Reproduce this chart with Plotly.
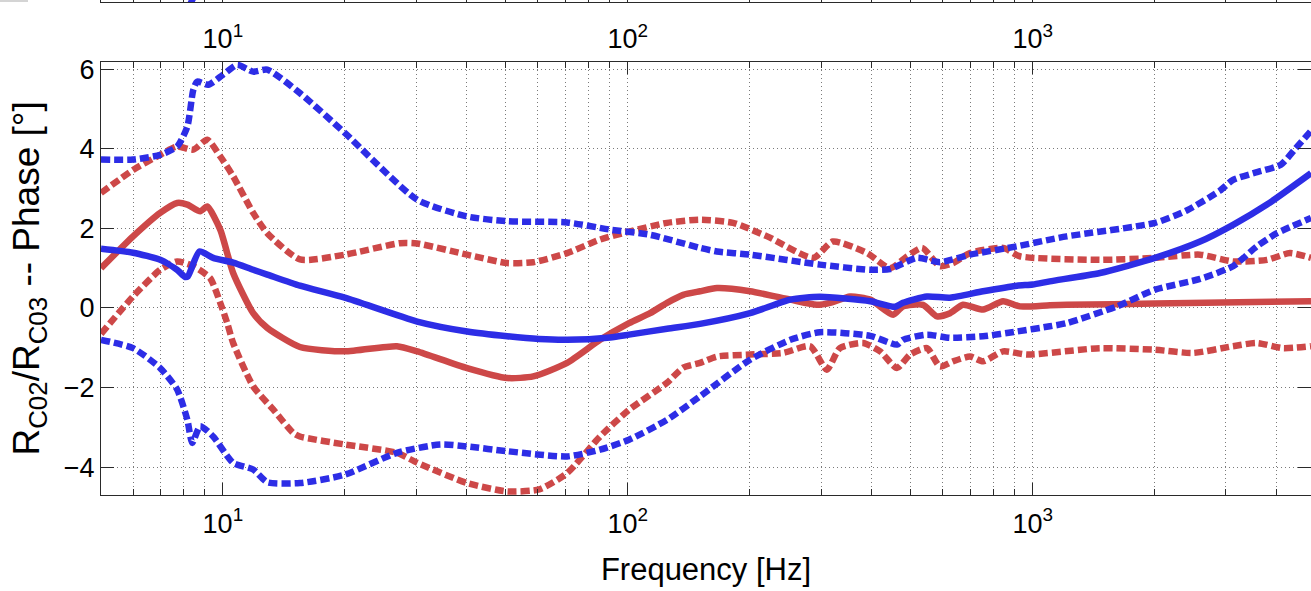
import numpy as np
import plotly.graph_objects as go

# ---------------- data (frequency in Hz, phase in degrees) ----------------
blue_mean_f = [5.0, 6.0, 7.0, 7.71, 8.07, 8.2, 8.75, 9.46, 10.6, 11.88, 12.87, 15.5, 20, 30.2, 40.1,
               50.4, 60.4, 70.8, 90.4, 100.7, 125, 150.8, 200.4, 252, 298, 397, 457, 478, 548, 625,
               754, 915, 1000, 1102, 1466, 2005, 2590, 3124, 3789, 4867]
blue_mean_v = [1.49, 1.39, 1.21, 0.96, 0.78, 0.80, 1.42, 1.26, 1.14, 0.96, 0.84, 0.56, 0.26, -0.34, -0.59,
               -0.71, -0.78, -0.80, -0.74, -0.67, -0.52, -0.40, -0.13, 0.21, 0.28, 0.17, 0.03, 0.13, 0.29, 0.26,
               0.42, 0.56, 0.59, 0.67, 0.88, 1.26, 1.67, 2.09, 2.60, 3.39]

blue_up_f = [5.0, 6.0, 7.0, 7.71, 8.17, 8.45, 8.64, 9.2, 10.0, 10.85, 11.88, 12.87, 15.5, 20, 30.2,
             40.1, 50.4, 70.8, 90.4, 113.5, 150.8, 166, 200.4, 298, 397, 444, 518, 590, 700, 915,
             1102, 1213, 2005, 2400, 2900, 3124, 3600, 4100, 4450, 4867]
blue_up_v = [3.73, 3.73, 3.85, 4.06, 4.56, 5.48, 5.69, 5.61, 5.86, 6.11, 5.94, 5.99, 5.40, 4.40, 2.72,
             2.30, 2.18, 2.15, 1.97, 1.84, 1.51, 1.42, 1.34, 1.09, 0.96, 0.98, 1.26, 1.15, 1.34, 1.55,
             1.72, 1.80, 2.14, 2.45, 2.95, 3.22, 3.42, 3.60, 4.00, 4.45]

blue_lo_f = [5.0, 6.0, 7.0, 7.71, 8.17, 8.40, 8.79, 9.46, 10.6, 11.88, 12.87, 15.5, 20, 26.9, 34.4,
             40.1, 50.4, 70.8, 85.4, 100.7, 125, 150.8, 200.4, 252, 298, 397, 462, 478, 548, 625,
             754, 915, 1102, 1213, 1615, 2005, 2590, 3124, 3579, 4011, 4867]
blue_lo_v = [-0.80, -1.01, -1.51, -2.05, -2.81, -3.39, -2.97, -3.23, -3.89, -4.06, -4.38, -4.40, -4.19, -3.64, -3.43,
             -3.48, -3.60, -3.73, -3.56, -3.31, -2.81, -2.22, -1.30, -0.80, -0.61, -0.70, -0.92, -0.80, -0.67, -0.75,
             -0.71, -0.59, -0.46, -0.38, 0.04, 0.46, 0.73, 1.05, 1.55, 1.88, 2.26]

red_mean_f = [5.0, 6.0, 7.0, 7.71, 8.17, 8.79, 9.15, 9.85, 10.6, 11.88, 12.87, 15.5, 20, 26.9, 30.2,
              40.1, 50.4, 58.4, 70.8, 85.4, 100.7, 113.5, 125, 137, 150.8, 166, 200.4, 252, 293, 316,
              354, 397, 452, 478, 536, 580, 625, 673, 754, 845, 930, 1102, 1213, 2005, 4867]
red_mean_v = [1.00, 1.80, 2.39, 2.64, 2.60, 2.43, 2.55, 1.97, 0.88, -0.13, -0.50, -0.98, -1.09, -0.96, -1.09,
              -1.51, -1.76, -1.72, -1.38, -0.80, -0.38, -0.13, 0.13, 0.33, 0.42, 0.50, 0.42, 0.21, 0.08, 0.13,
              0.29, 0.21, -0.17, 0.04, 0.08, -0.21, -0.13, 0.08, -0.04, 0.17, 0.04, 0.07, 0.08, 0.11, 0.17]

red_up_f = [5.0, 6.0, 7.0, 7.71, 8.45, 9.15, 9.85, 10.6, 11.88, 12.87, 15.5, 20, 27.4, 30.2, 40.1,
            50.4, 58.4, 70.8, 85.4, 100.7, 125, 150.8, 182, 221, 287, 321, 390, 444, 490, 533,
            590, 636, 700, 845, 930, 1466, 2005, 2590, 3124, 3789, 4318, 4867]
red_up_v = [2.89, 3.47, 3.85, 4.06, 3.98, 4.23, 3.81, 3.31, 2.39, 1.88, 1.22, 1.34, 1.63, 1.62, 1.34,
            1.13, 1.15, 1.38, 1.72, 1.92, 2.14, 2.22, 2.14, 1.80, 1.26, 1.67, 1.38, 1.00, 1.30, 1.51,
            1.05, 1.13, 1.38, 1.51, 1.30, 1.21, 1.26, 1.34, 1.17, 1.21, 1.38, 1.26]

red_lo_f = [5.0, 6.0, 7.0, 7.71, 8.45, 9.30, 9.85, 10.25, 10.6, 11.88, 13.31, 14.92, 15.5, 20, 26.9,
            30.2, 40.1, 50.4, 60.4, 70.8, 85.4, 100.7, 125, 137, 150.8, 166, 200.4, 242, 282, 310,
            334, 381, 420, 462, 498, 548, 590, 636, 700, 754, 845, 968, 1466, 2005, 2488, 3124,
            3579, 4150, 4867]
red_lo_v = [-0.65, 0.29, 0.96, 1.17, 1.05, 0.75, 0.13, -0.38, -0.88, -1.97, -2.55, -3.14, -3.23, -3.43, -3.64,
            -3.89, -4.40, -4.61, -4.56, -4.15, -3.23, -2.56, -1.88, -1.50, -1.38, -1.22, -1.17, -1.13, -0.96, -1.55,
            -1.01, -0.88, -1.09, -1.51, -1.17, -1.01, -1.47, -1.34, -1.22, -1.34, -1.09, -1.17, -1.01, -1.05, -1.13, -0.96,
            -0.88, -1.01, -0.96]

# fragment of a curve of the panel above (only its bottom edge is visible)
upper_panel_f = [8.30, 8.45]
upper_panel_v = [-1.0, 2.0]

major_ticks = [10, 100, 1000]
major_text = ["10<sup>1</sup>", "10<sup>2</sup>", "10<sup>3</sup>"]
minor_ticks = [6, 7, 8, 9, 20, 30, 40, 50, 60, 70, 80, 90,
               200, 300, 400, 500, 600, 700, 800, 900, 2000, 3000, 4000]
y_ticks = [-4, -2, 0, 2, 4, 6]

BLUE = "rgb(45,45,230)"
RED = "rgb(205,72,72)"
FONT = "Liberation Sans, Arial, Helvetica, sans-serif"
AX = "#2a2a2a"
GRID = "#7a7a7a"
GDASH = "1px,3px"
DASH = "9px,4px"
LW = 6.5

fig = go.Figure()

def add(f, v, color, dash):
    fig.add_trace(go.Scatter(x=f, y=v, mode="lines", xaxis="x", yaxis="y",
                             line=dict(color=color, width=LW, dash=dash, shape="spline", smoothing=0.6),
                             showlegend=False, hoverinfo="skip"))

add(red_up_f, red_up_v, RED, DASH)
add(red_lo_f, red_lo_v, RED, DASH)
add(red_mean_f, red_mean_v, RED, "solid")
add(blue_up_f, blue_up_v, BLUE, DASH)
add(blue_lo_f, blue_lo_v, BLUE, DASH)
add(blue_mean_f, blue_mean_v, BLUE, "solid")

fig.add_trace(go.Scatter(x=upper_panel_f, y=upper_panel_v, mode="lines", xaxis="x2", yaxis="y2",
                         line=dict(color=BLUE, width=LW, dash=DASH), showlegend=False, hoverinfo="skip"))

xr = [np.log10(5), np.log10(4867)]
H = 591
B = 96
PH = H - B  # plot area height (t=0)
main_top = (PH - 61.7) / PH
top_dom = 1 - 2.3 / PH

common_x = dict(type="log", range=xr, tickvals=major_ticks, ticktext=major_text,
                ticks="inside", ticklen=12, tickwidth=1, tickcolor=AX,
                showgrid=True, griddash=GDASH, gridcolor=GRID, gridwidth=1,
                showline=True, linecolor=AX, linewidth=1.3, automargin=False,
                tickfont=dict(family=FONT, size=27, color="black"),
                minor=dict(tickvals=minor_ticks, ticks="inside", ticklen=6, tickcolor=AX,
                           showgrid=True, griddash=GDASH, gridcolor=GRID, gridwidth=1),
                zeroline=False, domain=[0, 1])

fig.update_layout(
    width=1311, height=H,
    margin=dict(l=101, r=0, t=0, b=B, pad=0, autoexpand=False),
    paper_bgcolor="white", plot_bgcolor="white",
    xaxis=dict(common_x, anchor="y", mirror="ticks", ticklabelstandoff=4,
               title=dict(text="Frequency [Hz]", font=dict(family=FONT, size=31, color="black"), standoff=20)),
    yaxis=dict(range=[-4.70, 6.19], tickvals=y_ticks, ticks="inside", ticklen=13, tickcolor=AX,
               showgrid=True, griddash=GDASH, gridcolor=GRID, gridwidth=1, automargin=False,
               showline=True, linecolor=AX, linewidth=1.3, mirror="ticks", zeroline=False,
               tickfont=dict(family=FONT, size=27, color="black"), domain=[0, main_top],
               title=dict(text="R<sub>C02</sub>/R<sub>C03</sub> -- Phase [°]",
                          font=dict(family=FONT, size=37, color="black"), standoff=12)),
    xaxis2=dict(common_x, anchor="y2", mirror=True, ticklabelstandoff=12),
    yaxis2=dict(range=[0, 1], domain=[top_dom, 1], showticklabels=False, ticks="", automargin=False,
                showgrid=False, zeroline=False, showline=True, linecolor=AX, linewidth=1.3, mirror=True),
    shapes=[dict(type="rect", xref="paper", yref="paper", x0=-101 / 1210, x1=(28 - 101) / 1210,
                 y0=1 - 2 / PH, y1=1.0, fillcolor="#d4d4d4", line=dict(width=0), layer="above")],
)

fig.write_html("out.html")
